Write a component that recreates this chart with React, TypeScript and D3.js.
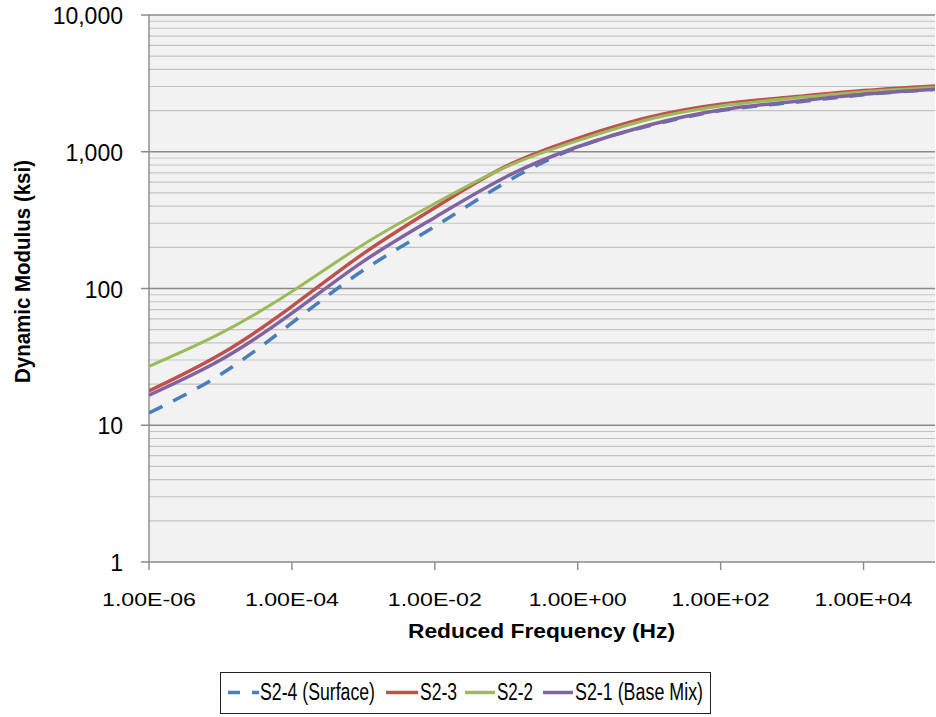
import React from 'react';
import * as d3 from 'd3';

const frequencies = [1e-6, 1e-5, 1e-4, 1e-3, 1e-2, 1e-1, 1e0, 1e1, 1e2, 1e3, 1e4, 1e5];
const s24Surface = [12.3, 23.5, 56, 136, 284, 600, 1080, 1550, 2000, 2290, 2610, 2860];
const s23 = [17.8, 33, 74, 180, 390, 785, 1254, 1786, 2224, 2518, 2800, 3027];
const s22 = [27, 47, 95, 210, 418, 775, 1205, 1727, 2160, 2460, 2750, 2955];
const s21BaseMix = [16.6, 30, 66, 158, 331, 657, 1088, 1570, 2020, 2323, 2630, 2864];

const seriesNames = ['S2-4 (Surface)', 'S2-3', 'S2-2', 'S2-1 (Base Mix)'];
const seriesColors = ['#4A7EBB', '#C0504D', '#9BBB59', '#8064A2'];
const seriesValues = [s24Surface, s23, s22, s21BaseMix];

const yTickValues = [1, 10, 100, 1000, 10000];
const yTickLabels = ['1', '10', '100', '1,000', '10,000'];
const xTickValues = [1e-6, 1e-4, 1e-2, 1e0, 1e2, 1e4];
const xTickLabels = ['1.00E-06', '1.00E-04', '1.00E-02', '1.00E+00', '1.00E+02', '1.00E+04'];

const W = 936;
const H = 717;
const left = 149;
const right = 935;
const top = 15;
const bottom = 562;

export default function App() {
  const x = d3.scaleLog().domain([1e-6, 1e5]).range([left, right]);
  const y = d3.scaleLog().domain([1, 10000]).range([bottom, top]);

  const minor: number[] = [];
  for (let d = 1; d < 10000; d *= 10) {
    for (let k = 2; k <= 9; k++) minor.push(d * k);
  }

  const line = d3
    .line<[number, number]>()
    .x((d) => x(d[0]))
    .y((d) => y(d[1]))
    .curve(d3.curveNatural);

  const legendItems = [
    { x0: 228, x1: 259, tx: 260, tl: 115 },
    { x0: 386, x1: 418, tx: 420, tl: 37 },
    { x0: 465, x1: 495, tx: 497, tl: 36 },
    { x0: 543, x1: 573, tx: 575, tl: 128 },
  ];

  return (
    <svg
      width={W}
      height={H}
      style={{ position: 'absolute', left: 0, top: 0, background: '#fff' }}
      fontFamily="'Liberation Sans', Arial, sans-serif"
    >
      <defs>
        <clipPath id="plotclip">
          <rect x={left} y={top - 2} width={right - left} height={bottom - top + 2} />
        </clipPath>
      </defs>
      <rect x={left} y={top} width={right - left} height={bottom - top} fill="#F2F2F2" />
      {minor.map((v) => (
        <line key={'m' + v} x1={left} x2={right} y1={y(v)} y2={y(v)} stroke="#C3C3C3" strokeWidth={1.2} />
      ))}
      {yTickValues.map((v) => (
        <line key={'M' + v} x1={left - 8} x2={right} y1={y(v)} y2={y(v)} stroke="#8A8A8A" strokeWidth={1.4} />
      ))}
      <line x1={left} x2={left} y1={top} y2={bottom} stroke="#8A8A8A" strokeWidth={1.4} />
      {xTickValues.map((v) => (
        <line key={'xt' + v} x1={x(v)} x2={x(v)} y1={bottom} y2={bottom + 8} stroke="#8A8A8A" strokeWidth={1.4} />
      ))}
      <g clipPath="url(#plotclip)">
        {seriesValues.map((vals, i) => (
          <path
            key={seriesNames[i]}
            d={line(frequencies.map((f, j) => [f, vals[j]] as [number, number])) || ''}
            fill="none"
            stroke={seriesColors[i]}
            strokeWidth={i === 2 ? 3 : 3.5}
            strokeDasharray={i === 0 ? '15,12' : undefined}
            strokeLinejoin="round"
          />
        ))}
      </g>
      {yTickValues.map((v, i) => (
        <text key={'yl' + v} x={123} y={y(v) + 9} textAnchor="end" fontSize={23} fill="#000">
          {yTickLabels[i]}
        </text>
      ))}
      {xTickValues.map((v, i) => (
        <text
          key={'xl' + v}
          x={x(v)}
          y={606}
          textAnchor="middle"
          fontSize={18}
          fill="#000"
          textLength={xTickLabels[i].includes('+') ? 98 : 94}
          lengthAdjust="spacingAndGlyphs"
        >
          {xTickLabels[i]}
        </text>
      ))}
      <text
        x={541.5}
        y={638}
        textAnchor="middle"
        fontSize={21}
        fontWeight="bold"
        textLength={267}
        lengthAdjust="spacingAndGlyphs"
      >
        Reduced Frequency (Hz)
      </text>
      <text
        transform={`translate(30, 271.5) rotate(-90)`}
        textAnchor="middle"
        fontSize={22}
        fontWeight="bold"
        textLength={223}
        lengthAdjust="spacingAndGlyphs"
      >
        Dynamic Modulus (ksi)
      </text>
      <rect x={220.5} y={672.5} width={490} height={41} fill="#fff" stroke="#222" strokeWidth={1} />
      {legendItems.map((it, i) => (
        <g key={'lg' + i}>
          <line
            x1={it.x0}
            x2={it.x1}
            y1={692.5}
            y2={692.5}
            stroke={seriesColors[i]}
            strokeWidth={3.5}
            strokeDasharray={i === 0 ? '12,12' : undefined}
          />
          <text x={it.tx} y={700} fontSize={23} textLength={it.tl} lengthAdjust="spacingAndGlyphs">
            {seriesNames[i]}
          </text>
        </g>
      ))}
    </svg>
  );
}
